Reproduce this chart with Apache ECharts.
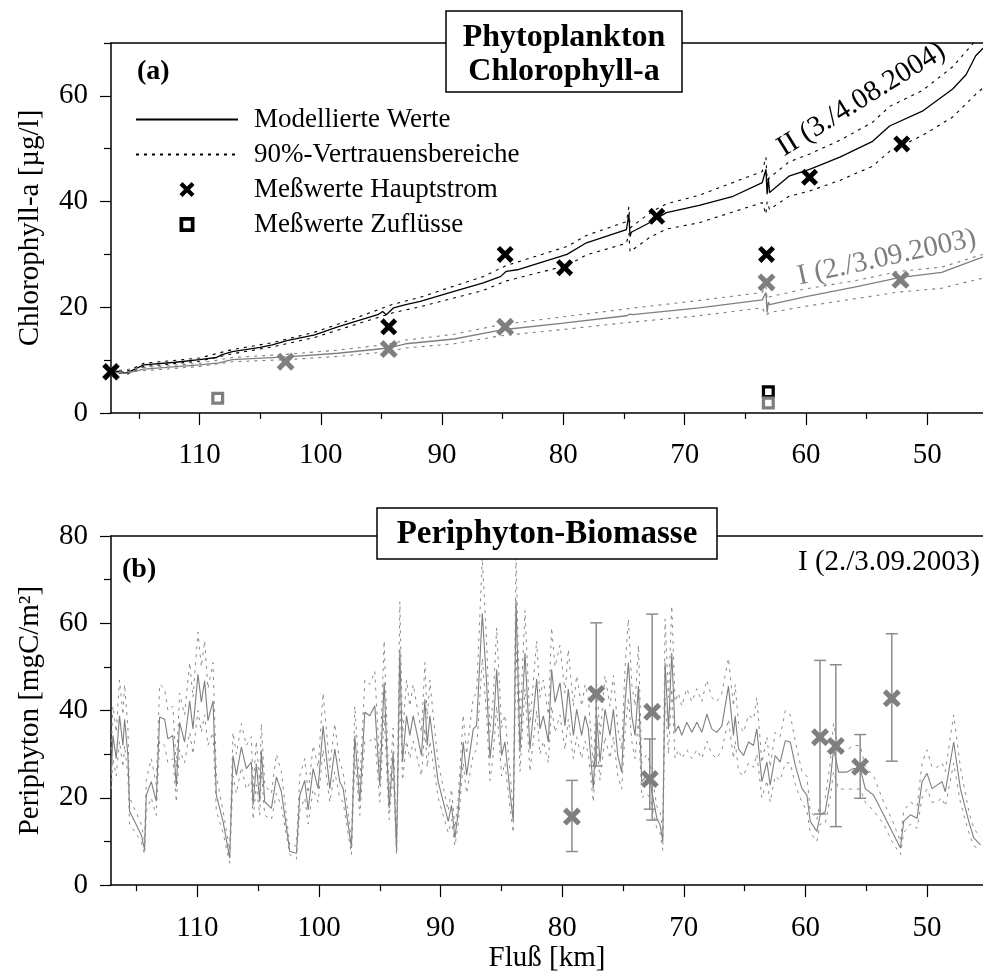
<!DOCTYPE html>
<html>
<head>
<meta charset="utf-8">
<script src="https://cdn.jsdelivr.net/npm/echarts@6/dist/echarts.min.js"></script>
<style>
html,body{margin:0;padding:0;background:#fff;}
#chart{width:983px;height:974px;}
</style>
</head>
<body>
<div id="chart"></div>
<script>
// ---------- tick values ----------
const kmMajor = [50, 60, 70, 80, 90, 100, 110];
const kmMinor = [55, 65, 75, 85, 95, 105, 115];
const chlMajor = [0, 20, 40, 60];
const chlMinor = [10, 30, 50, 70];
const periMajor = [0, 20, 40, 60, 80];
const periMinor = [10, 30, 50, 70];

// ---------- panel (a): model II (3./4.08.2004) ----------
const kmII = [117.3,116.5,116.2,115.9,114.6,112,110,108.6,108.2,107.3,105,104,102.8,100.5,98.6,97.2,95.3,94.9,94.6,94.0,93.0,91.8,89.3,86.6,85.2,84.7,83.8,79.7,78.1,74.8,74.6,74.5,74.4,72.9,71.5,68.8,66,63.6,63.3,63.2,63.1,63.0,61.4,59.7,57.2,54.5,53.1,50.4,47.9,46.8,46.0,45.4];
const chlII = [7.8,7.9,7.6,7.7,9.1,9.6,10.1,10.5,11.0,11.6,12.4,12.9,13.7,14.8,16.3,17.3,18.6,19.2,18.6,19.9,20.5,21.1,22.8,24.6,25.8,26.8,27.1,30.0,32.2,34.7,37.6,33.4,34.2,36.0,37.9,39.3,41.0,43.6,46.1,41.4,44.5,41.7,44.8,46.1,48.4,51.4,54.3,57.1,61.3,64.0,67.6,69.0];
const kmIIBand = [117.3,115.9,114.6,110,107.3,104,100.5,97.2,94,91.8,89.3,86.6,84.7,79.7,78.1,74.8,74.6,74.5,72.9,71.5,68.8,63.6,63.3,63.2,63.0,61.4,59.7,57.2,54.5,53.1,50.4,47.9,46.0,45.4];
const chlIIUpper = [8.0,8.0,9.4,10.4,12.0,13.3,15.3,17.9,20.6,21.9,23.8,25.8,27.9,31.5,33.6,36.2,39.0,35.0,37.8,39.6,41.2,45.7,48.4,44.0,44.5,47.5,49.0,51.6,55.0,58.0,61.0,65.5,70.5,72.0];
const chlIILower = [7.6,7.4,8.8,9.8,11.2,12.5,14.3,16.7,19.0,20.1,21.6,23.2,25.0,27.9,29.9,32.1,34.0,30.5,33.2,34.8,36.0,39.8,37.6,40.0,38.5,41.0,42.0,44.0,46.7,49.5,52.5,56.0,60.3,61.5];

// ---------- panel (a): model I (2./3.09.2003) ----------
const kmI = [117.3,116.2,115.9,114.6,110,108.4,107.3,102.8,98.6,94.4,93.0,89,85.2,80,74.8,74.5,74.3,68.8,63.6,63.3,63.2,63.1,63.0,60.0,56,52.3,48.8,46.0,45.4];
const chlI = [7.8,7.5,7.6,8.3,9.1,9.5,10.1,10.6,11.3,12.3,13.1,14.0,15.7,17.0,18.4,18.7,18.6,19.9,21.4,22.8,19.0,21.0,20.5,22.0,23.8,25.6,26.6,29.0,29.5];
const kmIBand = [117.3,114.6,110,107.3,102.8,98.6,94.4,93.0,89,85.2,80,74.8,68.8,63.6,63.3,63.2,63.0,60.0,56,52.3,48.8,46.0,45.4];
const chlIUpper = [7.9,8.6,9.4,10.5,11.1,11.9,13.0,13.8,14.9,16.7,18.2,19.7,21.3,22.8,24.0,21.5,22.0,23.5,25.0,26.8,27.6,29.6,30.0];
const chlILower = [7.7,8.0,8.8,9.7,10.1,10.7,11.6,12.3,13.1,14.6,15.8,17.1,18.4,19.9,18.5,18.8,19.0,20.2,21.6,22.9,23.6,25.2,25.5];

// ---------- panel (a): measurements ----------
const mainKmII = [117.3,94.4,84.8,79.9,72.3,63.25,59.7,52.1];
const mainChlII = [7.8,16.3,30.0,27.5,37.2,30.0,44.6,50.9];
const mainKmI = [117.3,102.9,94.4,84.8,63.25,52.2];
const mainChlI = [7.8,9.7,12.1,16.3,24.7,25.2];
const tribKmII = [63.1];
const tribChlII = [4.0];
const tribKmI = [108.5,63.1];
const tribChlI = [2.8,1.9];

// ---------- panel (b): periphyton model ----------
const kmP = [117.08,116.94,116.67,116.40,116.12,115.98,115.71,115.57,114.61,114.34,114.20,113.79,113.38,113.10,112.69,112.42,112.01,111.73,111.46,111.05,110.63,110.36,109.95,109.67,109.40,109.13,108.71,108.44,107.89,107.34,107.07,106.79,106.38,105.97,105.56,105.42,105.15,104.87,104.74,104.46,103.91,103.50,103.09,102.40,101.85,101.58,101.17,100.89,100.48,100.07,99.66,
99.11,98.70,98.29,98.01,97.33,97.05,96.64,96.23,95.82,95.41,95.00,94.64,94.23,93.90,93.62,93.35,93.13,92.80,92.53,92.25,91.57,91.29,91.10,90.88,90.61,90.20,89.37,89.10,88.82,88.55,88.14,87.86,87.31,87.04,86.57,86.22,85.94,85.67,85.39,84.98,84.71,84.30,84.02,83.80,83.47,83.06,82.65,82.10,
81.83,81.55,81.14,80.87,80.59,80.18,79.77,79.50,79.08,78.81,78.40,78.12,77.85,77.44,77.16,76.89,76.48,76.07,75.79,75.43,75.11,74.83,74.56,74.28,74.01,73.73,73.46,73.05,72.78,72.22,71.95,71.73,71.54,71.26,70.99,70.72,70.44,70.17,69.76,69.34,68.93,68.52,68.11,67.70,67.29,66.87,66.33,65.92,65.78,65.50,65.09,64.68,64.27,
64.00,63.58,63.17,62.90,62.49,62.08,61.65,61.25,60.83,60.29,59.88,59.60,59.06,58.79,58.38,57.96,57.69,57.27,56.59,56.04,55.49,55.08,54.39,53.57,52.88,52.19,51.92,51.37,50.82,50.41,50.00,49.59,49.18,48.77,48.50,47.81,47.26,46.57,46.16,45.61];
const periP = [25.2,34.3,29.0,38.8,32.0,38.0,29.7,16.9,11.5,8.1,20.6,23.7,19.2,38.5,38.0,33.5,34.3,22.6,37.3,32.8,42.2,35.8,48.3,41.9,46.8,37.7,42.2,20.6,14.6,6.2,29.7,25.2,31.6,26.7,28.2,18.3,27.8,19.1,30.9,19.1,17.6,24.8,21.4,7.7,7.3,20.6,24.0,17.2,26.7,22.1,36.5,
22.1,31.2,23.7,22.1,8.5,34.3,19.1,39.6,38.8,41.1,22.9,46.4,17.6,30.5,7.7,54.0,28.2,38.8,34.3,38.8,29.7,42.6,32.0,38.8,32.8,23.7,14.6,18.3,10.8,16.8,32.8,25.2,35.8,36.5,62.3,46.4,29.0,35.8,49.4,29.7,32.8,21.4,14.6,65.4,30.5,53.2,31.2,47.2,
35.8,38.8,32.8,49.4,41.9,46.4,36.5,44.9,34.3,40.3,34.3,38.8,35.8,22.1,38.8,28.2,40.3,34.3,40.3,29.7,25.9,41.9,51.0,38.8,34.3,45.6,23.7,25.2,23.7,15.3,13.8,10.0,51.0,35.8,53.2,35.0,36.5,34.3,37.3,35.0,37.3,35.0,39.2,35.8,35.0,36.5,45.6,34.3,38.8,31.2,29.7,32.8,32.0,
35.8,23.7,28.2,22.9,29.7,28.2,33.1,32.8,27.4,22.1,20.6,14.6,12.3,16.1,16.8,23.7,31.2,25.9,25.9,26.7,26.7,22.1,20.6,16.1,12.3,8.5,14.6,16.1,15.3,23.7,25.6,22.1,22.9,23.7,21.4,32.8,22.1,14.6,10.8,9.2];
const periUpper = [31,41,35,47,39,46,36,20,14,10,24,29,23,46,45,40,41,27,44,39,51,43,58,50,56,45,51,25,17,8,35,30,37,32,34,22,33,23,37,23,21,30,26,9,9,25,29,21,32,27,44,
27,37,28,26,10,41,23,47,46,49,27,56,21,36,9,65,34,47,41,46,35,51,38,47,39,28,17,22,13,20,39,30,43,44,75,56,35,43,59,36,39,26,17,76,37,63,37,56,
43,47,39,59,50,55,44,54,41,48,41,46,43,27,46,34,48,41,48,36,31,50,61,46,41,55,28,30,28,18,17,12,61,43,64,42,44,41,45,42,45,42,47,43,42,44,52,41,46,37,35,39,38,
43,28,34,27,35,34,40,39,33,26,25,17,15,19,20,28,37,31,31,32,32,27,25,19,15,10,17,19,18,28,31,27,27,28,26,39,27,17,13,11];
const periLower = [22,29,25,33,27,32,25,14,10,7,17,20,16,33,32,28,29,19,31,28,35,30,40,35,39,32,35,17,12,5,25,21,27,22,24,15,23,16,26,16,15,21,18,7,6,17,20,14,22,19,31,
19,26,20,19,7,29,16,33,33,34,19,39,15,26,7,45,24,33,29,33,25,36,27,33,28,20,12,15,9,14,28,21,30,31,52,39,24,30,41,25,28,18,12,55,26,45,26,40,
30,33,28,41,35,39,31,38,29,34,29,33,30,19,33,24,34,29,34,25,22,35,43,33,29,38,20,21,20,13,12,8,43,30,45,29,31,29,31,29,31,29,33,30,29,31,38,29,33,26,25,28,27,
30,20,24,19,25,24,28,28,23,19,17,12,10,14,14,20,26,22,22,22,22,19,17,14,10,7,12,14,13,20,22,19,19,20,18,28,19,12,9,8];

// ---------- panel (b): measurements with ranges ----------
const periMeasKm = [79.2,77.2,72.6,72.8,58.8,57.5,55.5,52.9];
const periMeasVal = [15.7,43.8,39.7,24.3,33.9,31.9,27.1,42.8];
const periMeasLow = [7.7,27.3,14.9,17.4,16.3,13.4,19.9,28.4];
const periMeasHigh = [24.0,60.1,62.1,33.5,51.5,50.5,34.5,57.6];

// ---------- labels ----------
const legendNames = ['Modellierte Werte', '90%-Vertrauensbereiche', 'Meßwerte Hauptstrom', 'Meßwerte Zuflüsse'];

const FONT = '"Liberation Serif", "Times New Roman", Times, serif';
const BLACK = '#000000';
const GRAY = '#7f7f7f';
const zip = (a, b) => a.map((v, i) => [v, b[i]]);
const X_PATH = 'path://M0,2L2,0L5,3L8,0L10,2L7,5L10,8L8,10L5,7L2,10L0,8L3,5Z';
const SQ_PATH = 'path://M0,0H12V12H0ZM3,3V9H9V3Z';

function xAxes(grid, maxKm) {
  const base = {gridIndex: grid, type: 'value', inverse: true, min: 45.4, max: maxKm, splitLine: {show: false}};
  return [
    Object.assign({}, base, {
      position: 'bottom',
      axisLine: {show: true, lineStyle: {color: BLACK, width: 1.5}},
      axisTick: {show: true, customValues: kmMajor, length: 12, lineStyle: {color: BLACK, width: 1.2}},
      axisLabel: {show: true, customValues: kmMajor, margin: grid === 1 ? 29 : 28, fontSize: 29, fontFamily: FONT, color: BLACK},
      name: grid === 1 ? 'Fluß [km]' : '',
      nameLocation: 'middle', nameGap: 58,
      nameTextStyle: {fontSize: 29, fontFamily: FONT, color: BLACK}
    }),
    Object.assign({}, base, {
      position: 'bottom',
      axisLine: {show: false},
      axisTick: {show: true, customValues: kmMinor, length: 6, lineStyle: {color: BLACK, width: 1.2}},
      axisLabel: {show: false}
    }),
    Object.assign({}, base, {
      position: 'top',
      axisLine: {show: true, lineStyle: {color: BLACK, width: 1.5}},
      axisTick: {show: false},
      axisLabel: {show: false}
    })
  ];
}
function yAxes(grid, maxV, major, minor, name) {
  const base = {gridIndex: grid, type: 'value', min: 0, max: maxV, position: 'left', splitLine: {show: false}};
  return [
    Object.assign({}, base, {
      axisLine: {show: true, lineStyle: {color: BLACK, width: 1.5}},
      axisTick: {show: true, customValues: major, length: 11, lineStyle: {color: BLACK, width: 1.2}},
      axisLabel: {show: true, customValues: major, margin: 23, fontSize: 29, fontFamily: FONT, color: BLACK},
      name: name, nameLocation: 'middle', nameGap: 66, nameRotate: 90,
      nameTextStyle: {fontSize: 29, fontFamily: FONT, color: BLACK}
    }),
    Object.assign({}, base, {
      axisLine: {show: false},
      axisTick: {show: true, customValues: minor, length: 7, lineStyle: {color: BLACK, width: 1.2}},
      axisLabel: {show: false}
    })
  ];
}

function lineSeries(name, xs, ys, color, dashed, xi, yi, width) {
  return {
    name: name, type: 'line', xAxisIndex: xi, yAxisIndex: yi,
    data: zip(xs, ys), symbol: 'none', showSymbol: false, smooth: false,
    lineStyle: {color: color, width: width || 1.2, type: dashed ? [3, 5] : 'solid'},
    itemStyle: {color: color}, silent: true, animation: false, z: 3
  };
}

const series = [
  // panel (a)
  lineSeries('Modellierte Werte', kmII, chlII, BLACK, false, 0, 0, 1.3),
  lineSeries('90%-Vertrauensbereiche', kmIIBand, chlIIUpper, BLACK, true, 0, 0, 1.1),
  lineSeries('90%-Vertrauensbereiche', kmIIBand, chlIILower, BLACK, true, 0, 0, 1.1),
  lineSeries('Modell I', kmI, chlI, GRAY, false, 0, 0, 1.3),
  lineSeries('Band I', kmIBand, chlIUpper, GRAY, true, 0, 0, 1.1),
  lineSeries('Band I', kmIBand, chlILower, GRAY, true, 0, 0, 1.1),
  {
    name: 'Meßwerte I', type: 'scatter', xAxisIndex: 0, yAxisIndex: 0, clip: false,
    data: zip(mainKmI, mainChlI), symbol: X_PATH, symbolSize: 18,
    itemStyle: {color: GRAY, opacity: 1}, z: 5, animation: false
  },
  {
    name: 'Meßwerte Hauptstrom', type: 'scatter', xAxisIndex: 0, yAxisIndex: 0, clip: false,
    data: zip(mainKmII, mainChlII), symbol: X_PATH, symbolSize: 17,
    itemStyle: {color: BLACK, opacity: 1}, z: 6, animation: false
  },
  {
    name: 'Meßwerte Zuflüsse', type: 'scatter', xAxisIndex: 0, yAxisIndex: 0, clip: false,
    data: zip(tribKmII, tribChlII), symbol: SQ_PATH, symbolSize: 13,
    itemStyle: {color: BLACK, opacity: 1}, z: 6, animation: false
  },
  {
    name: 'Zuflüsse I', type: 'scatter', xAxisIndex: 0, yAxisIndex: 0, clip: false,
    data: zip(tribKmI, tribChlI), symbol: SQ_PATH, symbolSize: 13,
    itemStyle: {color: GRAY, opacity: 1}, z: 7, animation: false
  },
  // panel (b)
  lineSeries('Periphyton Modell', kmP, periP, GRAY, false, 3, 2, 1.1),
  lineSeries('Periphyton Band', kmP, periUpper, '#8c8c8c', true, 3, 2, 1),
  lineSeries('Periphyton Band', kmP, periLower, '#8c8c8c', true, 3, 2, 1),
  {
    name: 'Periphyton Spannweite', type: 'custom', xAxisIndex: 3, yAxisIndex: 2,
    data: periMeasKm.map((k, i) => [k, periMeasLow[i], periMeasHigh[i]]),
    encode: {x: 0, y: [1, 2]}, z: 4, animation: false, silent: true,
    renderItem: function (params, api) {
      const k = api.value(0);
      const lo = api.coord([k, api.value(1)]);
      const hi = api.coord([k, api.value(2)]);
      const st = {stroke: '#8c8c8c', lineWidth: 1.5};
      return {type: 'group', children: [
        {type: 'line', shape: {x1: lo[0], y1: lo[1], x2: hi[0], y2: hi[1]}, style: st},
        {type: 'line', shape: {x1: lo[0] - 6, y1: lo[1], x2: lo[0] + 6, y2: lo[1]}, style: st},
        {type: 'line', shape: {x1: hi[0] - 6, y1: hi[1], x2: hi[0] + 6, y2: hi[1]}, style: st}
      ]};
    }
  },
  {
    name: 'Periphyton Meßwerte', type: 'scatter', xAxisIndex: 3, yAxisIndex: 2, clip: false,
    data: zip(periMeasKm, periMeasVal), symbol: X_PATH, symbolSize: 18,
    itemStyle: {color: GRAY, opacity: 1}, z: 6, animation: false
  }
];

const txt = (o) => Object.assign({type: 'text', z: 100}, o);
const graphic = [
  {type: 'rect', z: 100, shape: {x: 446, y: 11, width: 236, height: 81},
   style: {fill: '#ffffff', stroke: BLACK, lineWidth: 1.5}},
  txt({x: 564, y: 38, style: {text: 'Phytoplankton', fontSize: 32, fontWeight: 'bold', fontFamily: FONT, fill: BLACK, align: 'center', verticalAlign: 'middle'}}),
  txt({x: 564, y: 72, style: {text: 'Chlorophyll-a', fontSize: 32, fontWeight: 'bold', fontFamily: FONT, fill: BLACK, align: 'center', verticalAlign: 'middle'}}),
  {type: 'rect', z: 100, shape: {x: 377, y: 508, width: 340, height: 51},
   style: {fill: '#ffffff', stroke: BLACK, lineWidth: 1.5}},
  txt({x: 547, y: 534, style: {text: 'Periphyton-Biomasse', fontSize: 33, fontWeight: 'bold', fontFamily: FONT, fill: BLACK, align: 'center', verticalAlign: 'middle'}}),
  txt({x: 137, y: 72, style: {text: '(a)', fontSize: 28, fontWeight: 'bold', fontFamily: FONT, fill: BLACK, align: 'left', verticalAlign: 'middle'}}),
  txt({x: 122, y: 570, style: {text: '(b)', fontSize: 28, fontWeight: 'bold', fontFamily: FONT, fill: BLACK, align: 'left', verticalAlign: 'middle'}}),
  txt({x: 980, y: 562, style: {text: 'I (2./3.09.2003)', fontSize: 29, fontFamily: FONT, fill: BLACK, align: 'right', verticalAlign: 'middle'}}),
  txt({x: 780, y: 150, rotation: 0.555, style: {text: 'II (3./4.08.2004)', fontSize: 29, fontFamily: FONT, fill: BLACK, align: 'left', verticalAlign: 'middle'}}),
  txt({x: 798, y: 277, rotation: 0.215, style: {text: 'I (2./3.09.2003)', fontSize: 29, fontFamily: FONT, fill: GRAY, align: 'left', verticalAlign: 'middle'}})
];

const option = {
  backgroundColor: '#ffffff',
  animation: false,
  textStyle: {fontFamily: FONT},
  grid: [
    {left: 111, top: 43, width: 872, height: 370, containLabel: false},
    {left: 111, top: 536, width: 872, height: 351, containLabel: false}
  ],
  xAxis: xAxes(0, 117.3).concat(xAxes(1, 117.1)),
  yAxis: yAxes(0, 70, chlMajor, chlMinor, 'Chlorophyll-a [µg/l]').concat(yAxes(1, 80, periMajor, periMinor, 'Periphyton [mgC/m²]')),
  legend: {
    show: true, orient: 'vertical', left: 135, top: 106, padding: 0,
    itemWidth: 102, itemHeight: 15, itemGap: 8,
    selectedMode: false,
    textStyle: {fontSize: 27, lineHeight: 27, fontFamily: FONT, color: BLACK, padding: [0, 0, 0, 11]},
    data: [
      {name: legendNames[0], itemStyle: {opacity: 0}},
      {name: legendNames[1], itemStyle: {opacity: 0}},
      {name: legendNames[2]},
      {name: legendNames[3]}
    ]
  },
  series: series,
  graphic: graphic
};

const chart = echarts.init(document.getElementById('chart'), null, {renderer: 'canvas'});
chart.setOption(option);
</script>
</body>
</html>
